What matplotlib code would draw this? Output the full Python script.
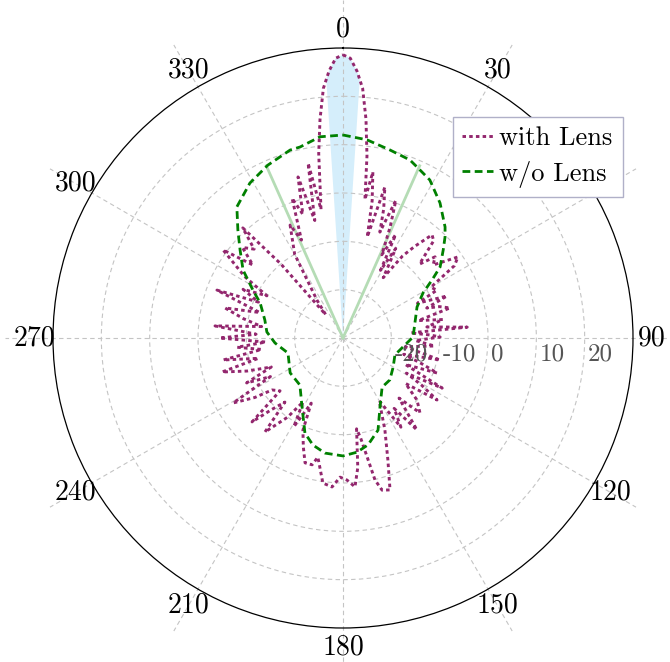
import numpy as np
import matplotlib.pyplot as plt
from matplotlib.transforms import offset_copy

plt.rcParams['font.family'] = ['cmr10', 'DejaVu Serif']
plt.rcParams['axes.formatter.use_mathtext'] = True

# radiation pattern with lens (deg, dB)
lens_deg = [0, 1.5, 3, 4.5, 6, 7.5, 9, 10.2, 12, 13.5, 15.5, 17.5, 19.2, 21, 23, 25,
            27, 29, 30.5, 32, 33.7, 36, 38, 40.8, 43, 46, 48.6, 51, 54.8, 57, 60,
            63, 65, 68, 70.3, 72, 74.3, 77, 79.5, 82.5, 85, 85.7, 88, 89.4, 92, 95,
            98, 102.8, 105, 108, 110.4, 113, 116.8, 119, 121, 123.4, 126, 130,
            134.2, 137, 141.2, 144, 147, 150, 154, 155.5, 159.8, 162.8, 165.6,
            167.3, 170, 171.5, 173.5, 175.4, 178.4, 181.2, 184.2, 187.9, 191.9,
            193.7, 196.9, 200, 203.5, 206, 209, 212, 215, 219.7, 222.2, 225, 227.3,
            230, 233.8, 236, 239.4, 242, 245, 248, 251, 254.3, 256.5, 259.6, 262,
            265, 267, 270, 272.5, 275.4, 278, 281, 284.3, 287, 290.8, 293, 296,
            299, 302, 306.3, 309, 312, 315, 317.7, 320, 323.5, 325.5, 330, 334.9,
            337, 340, 342, 344.4, 346.5, 348.7, 350.3, 352.5, 354, 355.5, 357,
            358.5, 360]
lens_db = [28.6, 27.9, 25.3, 21.8, 15.5, 8.0, -1.0, 4.9, -1.0, -8.5, 2.4, -2.0, -6.8,
           0.5, -5.0, -11.0, -6.0, -14.0, -8.5, -12.0, -15.0, -9.0, -6.0, -1.8, -2.5,
           -8.0, -4.6, -6.0, -0.9, -2.5, -9.0, -8.2, -13.0, -6.8, -11.6, -9.0, -7.0,
           -14.0, -9.0, -12.5, -4.2, -16.0, -12.0, -9.9, -15.0, -11.0, -17.0, -9.4,
           -17.0, -13.0, -9.2, -16.0, -7.0, -15.0, -11.0, -6.7, -14.0, -10.0, -7.8,
           -13.0, -5.6, -12.0, -8.0, -15.0, -11.2, -9.1, -3.1, 2.9, 2.5, 0.1, -9.0,
           -11.0, -3.0, 0.9, -0.6, -1.2, 0.9, 0.3, -4.8, -3.0, -3.0, -6.0, -9.2,
           -15.0, -9.0, -14.4, -10.0, -4.7, -12.1, -9.0, -4.4, -13.0, -11.8, -8.0,
           -3.6, -13.0, -8.0, -14.0, -9.0, -4.0, -12.0, -4.8, -13.0, -8.0, -14.0,
           -4.5, -12.0, -3.4, -13.0, -9.0, -4.8, -12.0, -2.1, -11.0, -7.0, -12.0,
           -6.0, 0.8, -6.0, -2.0, -4.0, 0.8, -10.0, -24.0, -20.5, -10.0, -4.2, -8.0,
           0.8, -3.1, 4.6, -5.0, 6.9, -3.0, 8.5, 15.5, 21.8, 25.3, 27.9, 28.6]

# radiation pattern without lens (deg, dB)
free_deg = [0, 6.9, 14.0, 20.6, 23.8, 28.8, 35.7, 42.6, 45.3, 48.7, 53.8, 56.9, 60.6,
            67.3, 78.2, 89.2, 96.4, 108.1, 120.1, 131.8, 141.5, 151.8, 159.2, 166.8,
            173, 180, 188.9, 195.7, 201.8, 210.7, 222.5, 236.6, 254.7, 265.8, 274.5,
            283, 292.9, 298, 304.2, 310.5, 315.8, 321, 329, 336.5, 344.3, 347.3,
            353.5, 360]
free_db = [12.0, 11.3, 10.1, 9.35, 8.45, 7.3, 4.4, 1.2, -0.3, -2.4, -5.1, -8.0, -11.0,
           -13.4, -14.8, -15.5, -17.1, -18.7, -18.0, -17.0, -17.0, -13.8, -9.6, -7.3,
           -6.2, -5.6, -5.9, -7.0, -8.8, -13.4, -16.8, -16.9, -18.2, -15.9, -14.2,
           -13.4, -11.4, -8.9, -5.0, -2.0, 1.2, 4.9, 7.4, 9.0, 10.4, 10.5, 11.9, 12.0]

beam_half = 3.7       # shaded main beam half width (deg)
hpbw_deg = [-24, 24]  # markers of the lens-free beam
hpbw_db = 9.0
r_min, r_max = -30, 30
r_ticks = [-20, -10, 0, 10, 20]
theta_ticks = list(range(0, 360, 30))
hidden_labels = [60]  # covered by the legend in the source figure

purple = '#93276e'
green = '#008000'
grid_c = '#c4c4c4'

fig = plt.figure(figsize=(6.7, 6.62), dpi=100)
ax = fig.add_axes([53 / 670, 34 / 662, 580 / 670, 580 / 662], projection='polar')
ax.set_theta_zero_location('N')
ax.set_theta_direction(-1)
ax.set_rlim(r_min, r_max)
ax.set_xticks([])
ax.set_yticks(r_ticks)
ax.set_yticklabels([])
ax.yaxis.grid(True, color=grid_c, linestyle=(0, (4, 3)), linewidth=0.8)
ax.spines['polar'].set_color('black')
ax.spines['polar'].set_linewidth(0.9)

# radial grid lines running past the rim
for t in theta_ticks:
    ax.plot([np.radians(t)] * 2, [r_min, 40], color=grid_c, linestyle=(0, (4, 3)),
            linewidth=0.8, clip_on=False, zorder=1.5)

# shaded main beam
th = np.linspace(-beam_half, beam_half, 60)
rr = np.interp(np.mod(th, 360), lens_deg, lens_db)
ax.fill(np.radians(np.r_[-beam_half, th, beam_half]), np.r_[r_min, rr, r_min],
        color='#d5eefb', linewidth=0, zorder=1)

for t in hpbw_deg:
    ax.plot([np.radians(t)] * 2, [r_min, hpbw_db], color='#b5dcb5', linewidth=2.0, zorder=1.6)

ax.plot(np.radians(lens_deg), lens_db, color=purple, linewidth=2.1,
        linestyle=(0, (1.2, 1.1)), label='with Lens', zorder=2)
ax.plot(np.radians(free_deg), free_db, color=green, linewidth=2.0,
        linestyle=(0, (2.8, 1.6)), label='w/o Lens', zorder=2.1)

# angle labels
for t in theta_ticks:
    if t in hidden_labels:
        continue
    ax.text(np.radians(t), 33.9, str(t), fontsize=20, ha='center', va='center',
            clip_on=False, zorder=3)

# radial labels
trans = offset_copy(ax.transData, fig=fig, x=3, y=-16, units='dots')
for r in r_ticks:
    ax.text(np.radians(90), r, str(r), transform=trans, fontsize=18, color='#555555',
            ha='left', va='center', zorder=3)

leg = ax.legend(loc='upper left', bbox_to_anchor=(0.6897, 0.0, 0.2932, 0.881),
                mode='expand', fontsize=19, fancybox=False, framealpha=1,
                edgecolor='#b0b0c8', handlelength=1.15, handletextpad=0.25,
                borderpad=0.35, labelspacing=0.4, borderaxespad=0)
leg.set_zorder(10)
leg.get_frame().set_linewidth(1.0)

fig.savefig('out.png', dpi=100)
